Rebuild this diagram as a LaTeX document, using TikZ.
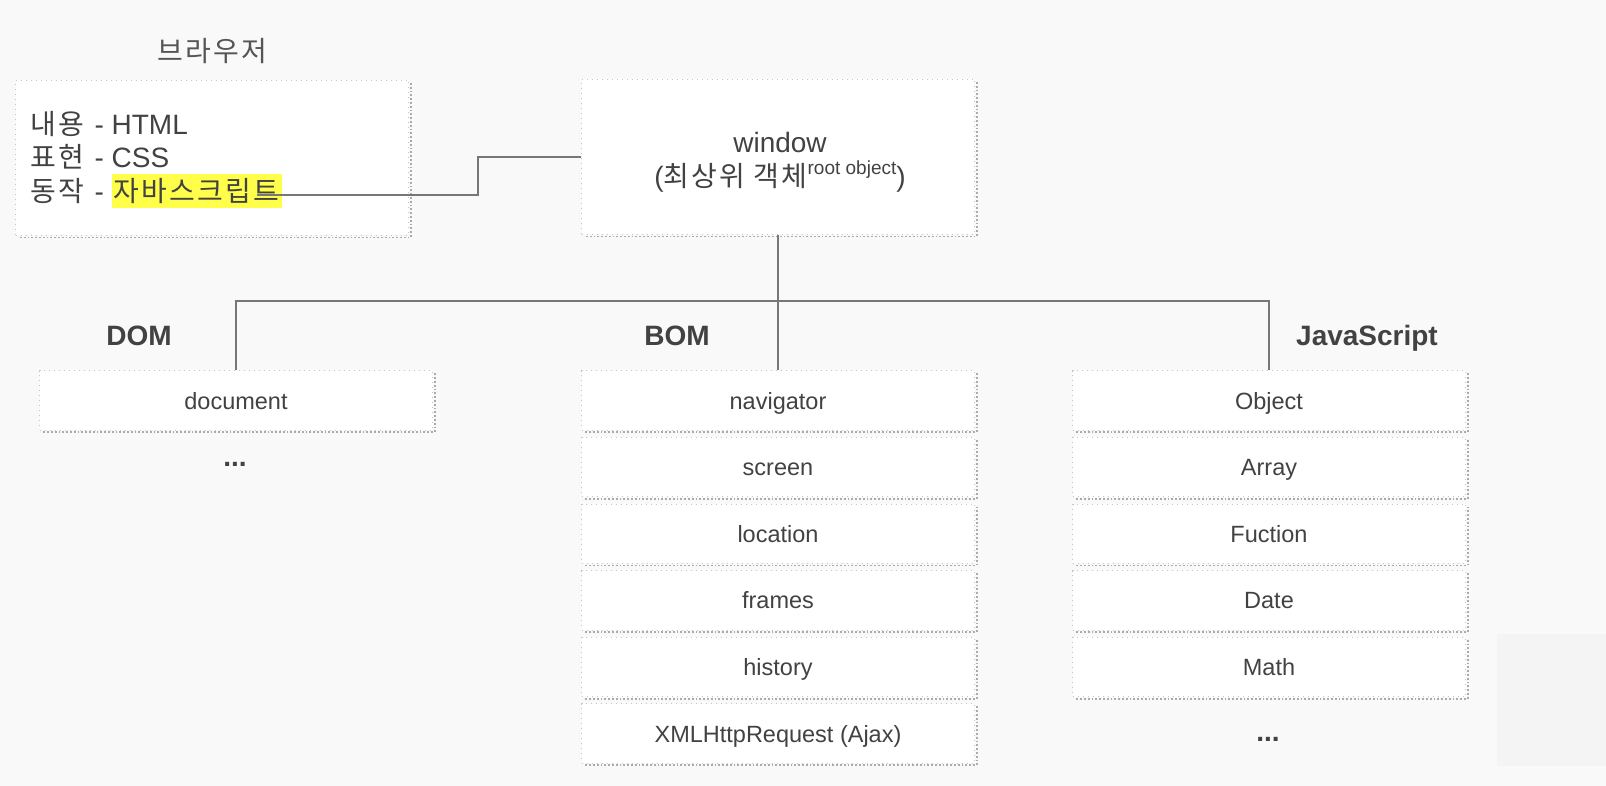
\documentclass[tikz,border=0pt]{standalone}
\usepackage{fontspec}
\setmainfont{Liberation Sans}
\newfontfamily\kr[LetterSpace=8]{Noto Sans CJK KR}
\usetikzlibrary{calc}
\setlength{\fboxsep}{0pt}

\definecolor{pagebg}{HTML}{F9F9F9}
\definecolor{patchbg}{HTML}{F4F4F4}
\definecolor{txt}{HTML}{424242}
\definecolor{title}{HTML}{555555}
\definecolor{linkgray}{HTML}{777777}
\definecolor{boxline}{HTML}{C6C6C6}
\definecolor{boxshade}{HTML}{ABABAB}
\definecolor{hl}{HTML}{FFFF4A}

\begin{document}
\begin{tikzpicture}[x=0.5pt,y=-0.5pt,
  objbox/.style={draw=boxline, dotted, line width=0.5pt, fill=white,
    minimum width=196.5pt, minimum height=29.7pt, inner sep=0pt,
    text height=10.5pt, text depth=2pt,
    font=\fontsize{11.75}{14}\selectfont, text=txt},
  bigbox/.style={objbox, minimum height=77.5pt, text height=, text depth=},
  boxshadow/.style={boxshade, densely dotted, line width=0.9pt},
  heading/.style={font=\fontsize{14}{16}\selectfont\bfseries, text=txt, anchor=base},
  maintext/.style={font=\fontsize{14}{17}\selectfont, text=txt},
  link/.style={linkgray, line width=1.2pt}
]

% Page background and margins
\fill[pagebg] (0,0) rectangle (1606,786);
\useasboundingbox (0,0) rectangle (1606,786);
\fill[patchbg] (1497,634) rectangle (1606,766);

% Browser box
\node[title, font=\fontsize{14}{16}\selectfont\kr, anchor=base] (browsertitle) at (212,62) {브라우저};
\node[bigbox] (browser) at (212,158) {};
\node[maintext, anchor=base west, inner sep=0pt] (html) at (30,135) {{\kr 내용}\hspace{1.3pt} - HTML};
\node[maintext, anchor=base west, inner sep=0pt] (css) at (30,168) {{\kr 표현}\hspace{1.3pt} - CSS};
\node[maintext, anchor=base west, inner sep=0pt] (js) at (30,202)
  {{\kr 동작}\hspace{1.3pt} - \colorbox{hl}{\rule[-3pt]{0pt}{17pt}\hspace{1pt}{\kr 자바스크립트}\hspace{1.5pt}}};
\coordinate (jsend) at (257,195);

% Root object
\node[bigbox] (window) at (778,157) {};
\node[maintext, align=center] (wintxt) at (780,162)
  {window\\({\kr 최상위 객체}\raisebox{6pt}{\fontsize{9.5}{10}\selectfont root object})};

% Column headings
\node[heading] (domhead) at (139,345) {DOM};
\node[heading] (bomhead) at (677,345) {BOM};
\node[heading] (jshead) at (1367,345) {JavaScript};

% DOM column
\node[objbox] (document) at (236,400.5) {document};
\node[heading] (domdots) at (235,466) {...};

% BOM column
\foreach \i/\nm/\lbl in {0/nav/navigator, 1/screen/screen, 2/location/location,
  3/frames/frames, 4/history/history, 5/xhr/XMLHttpRequest (Ajax)}{
  \node[objbox] (\nm) at (778,400.5+66.6*\i) {\lbl};
}

% JavaScript column
\foreach \i/\nm/\lbl in {0/obj/Object, 1/arr/Array, 2/fun/Fuction,
  3/date/Date, 4/math/Math}{
  \node[objbox] (\nm) at (1269,400.5+66.6*\i) {\lbl};
}
\node[heading] (jsdots) at (1268,741) {...};

% Shadow on right and bottom edges
\foreach \nm in {browser,window,document,nav,screen,location,frames,history,xhr,obj,arr,fun,date,math}{
  \draw[boxshadow] ([shift={(0.8pt,-1.5pt)}]\nm.north east) -- ([shift={(0.8pt,-0.8pt)}]\nm.south east)
    -- ([shift={(1.5pt,-0.8pt)}]\nm.south west);
}

% Connectors
\coordinate (hub) at (778,301);
\draw[link] (jsend) -- ++(221,0) |- (window.west);
\draw[link] (window.south) -- (nav.north);
\draw[link] (document.north) |- (hub) -| (obj.north);

\end{tikzpicture}
\end{document}
